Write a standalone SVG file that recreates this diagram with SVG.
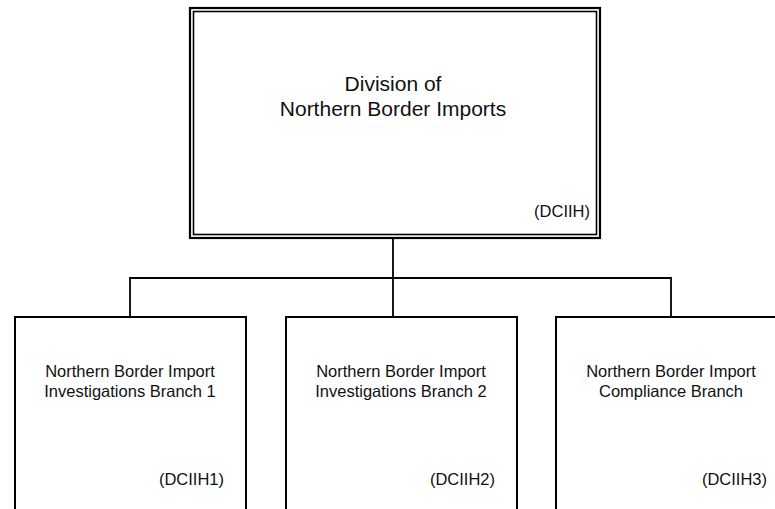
<svg xmlns="http://www.w3.org/2000/svg" width="775" height="509" viewBox="0 0 775 509">
<style>
.box{fill:#fff;stroke:#000;stroke-width:2}
.conn{fill:none;stroke:#000;stroke-width:1.8}
text{font-family:"Liberation Sans",Arial,sans-serif;fill:#111}
.t1{font-size:21px;text-anchor:middle}
.t2{font-size:16.5px;text-anchor:middle}
.code{font-size:16.5px;text-anchor:end}
.codeTop{font-size:16.5px;text-anchor:end}
</style>
<rect width="775" height="509" fill="#fff"/>
<g id="connectors">
<path class="conn" d="M393 238 V317 M130 317 V278 H671 V317"/>
</g>
<g id="node-DCIIH">
<rect x="190" y="8" width="410" height="230" fill="#fff" stroke="#000" stroke-width="2.2"/>
<rect x="193.5" y="11.5" width="403" height="223" fill="none" stroke="#000" stroke-width="1.6"/>
<text class="t1" x="393" y="91">Division of</text>
<text class="t1" x="393" y="116">Northern Border Imports</text>
<text class="codeTop" x="590" y="217">(DCIIH)</text>
</g>
<g id="node-DCIIH1">
<rect class="box" x="15" y="317" width="231" height="200"/>
<text class="t2" x="130" y="377">Northern Border Import</text>
<text class="t2" x="130" y="397">Investigations Branch 1</text>
<text class="code" x="224" y="485">(DCIIH1)</text>
</g>
<g id="node-DCIIH2">
<rect class="box" x="286" y="317" width="231" height="200"/>
<text class="t2" x="401" y="377">Northern Border Import</text>
<text class="t2" x="401" y="397">Investigations Branch 2</text>
<text class="code" x="495" y="485">(DCIIH2)</text>
</g>
<g id="node-DCIIH3">
<rect class="box" x="556" y="317" width="231" height="200"/>
<text class="t2" x="671" y="377">Northern Border Import</text>
<text class="t2" x="671" y="397">Compliance Branch</text>
<text class="code" x="767" y="485">(DCIIH3)</text>
</g>
</svg>
